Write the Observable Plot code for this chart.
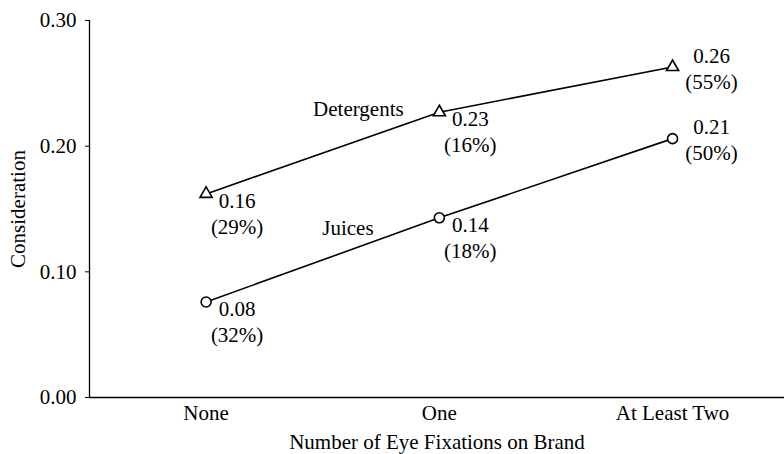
<!DOCTYPE html>
<html>
<head>
<meta charset="utf-8">
<script src="https://cdn.jsdelivr.net/npm/d3@7"></script>
<script src="https://cdn.jsdelivr.net/npm/@observablehq/plot@0.6"></script>
<style>
  html, body { margin: 0; padding: 0; background: #fff; }
  #chart svg { display: block; }
</style>
</head>
<body>
<div id="chart"></div>
<script>
// ---- data ----
const categories = ["None", "One", "At Least Two"];
const detergents = [0.162, 0.227, 0.263];
const juices = [0.076, 0.143, 0.206];
const detergentValueLabels = ["0.16", "0.23", "0.26"];
const juiceValueLabels = ["0.08", "0.14", "0.21"];
const detergentShares = ["(29%)", "(16%)", "(55%)"];
const juiceShares = ["(32%)", "(18%)", "(50%)"];
const seriesNames = ["Detergents", "Juices"];
const seriesNameX = [0.653, 0.608];
const seriesNameY = [0.229, 0.1345];
const yTicks = [0, 0.1, 0.2, 0.3];

// ---- build rows ----
const rows = [];
categories.forEach((c, i) => {
  rows.push({series: "Detergents", i, v: detergents[i], val: detergentValueLabels[i], share: detergentShares[i]});
});
categories.forEach((c, i) => {
  rows.push({series: "Juices", i, v: juices[i], val: juiceValueLabels[i], share: juiceShares[i]});
});
const det = rows.filter(d => d.series === "Detergents");
const jui = rows.filter(d => d.series === "Juices");
const early = rows.filter(d => d.i < 2);
const late = rows.filter(d => d.i === 2);
const names = seriesNames.map((n, k) => ({n, x: seriesNameX[k], y: seriesNameY[k]}));

const font = "'Liberation Serif', 'Times New Roman', serif";

const chart = Plot.plot({
  width: 784,
  height: 454,
  marginLeft: 89,
  marginRight: 0,
  marginTop: 20,
  marginBottom: 57,
  style: {fontFamily: font, fontSize: "21px", color: "#000", background: "#fff"},
  x: {type: "linear", domain: [-0.5, 2.48]},
  y: {domain: [0, 0.3]},
  marks: [
    Plot.ruleY([0], {stroke: "#000", strokeWidth: 1.3}),
    Plot.ruleX([-0.5], {y1: 0, y2: 0.3, stroke: "#000", strokeWidth: 1.3}),
    Plot.axisY({ticks: yTicks, tickFormat: d3.format(".2f"), tickSize: 4, tickPadding: 9, fill: "#000",
      label: "Consideration", labelAnchor: "center", labelArrow: "none", labelOffset: 79}),
    Plot.axisX({ticks: [0, 1, 2], tickFormat: i => categories[i], tickSize: 0, tickPadding: 8, fill: "#000",
      label: "Number of Eye Fixations on Brand", labelAnchor: "center", labelArrow: "none", labelOffset: 51}),
    Plot.line(det, {x: "i", y: "v", stroke: "#000", strokeWidth: 1.6}),
    Plot.line(jui, {x: "i", y: "v", stroke: "#000", strokeWidth: 1.6}),
    Plot.dot(det, {x: "i", y: "v", symbol: "triangle", r: 4.5, fill: "#fff", stroke: "#000", strokeWidth: 1.6}),
    Plot.dot(jui, {x: "i", y: "v", symbol: "circle", r: 5, fill: "#fff", stroke: "#000", strokeWidth: 1.6}),
    Plot.text(early, {x: "i", y: "v", text: "val", dx: 31, dy: 7, textAnchor: "middle", fill: "#000"}),
    Plot.text(early, {x: "i", y: "v", text: "share", dx: 31, dy: 33, textAnchor: "middle", fill: "#000"}),
    Plot.text(late, {x: "i", y: "v", text: "val", dx: 39, dy: -11, textAnchor: "middle", fill: "#000"}),
    Plot.text(late, {x: "i", y: "v", text: "share", dx: 39, dy: 15, textAnchor: "middle", fill: "#000"}),
    Plot.text(names, {x: "x", y: "y", text: "n", textAnchor: "middle", fill: "#000"})
  ]
});
document.getElementById("chart").appendChild(chart);
</script>
</body>
</html>
